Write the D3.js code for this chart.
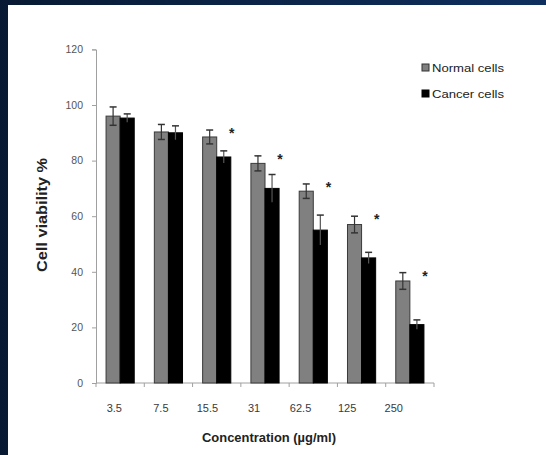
<!DOCTYPE html>
<html><head><meta charset="utf-8">
<script src="https://cdn.jsdelivr.net/npm/d3@7"></script>
<style>html,body{margin:0;padding:0;background:#0b2548;}svg{display:block;}</style>
</head><body>
<script>
const categories = ["3.5","7.5","15.5","31","62.5","125","250"];
const normalValues = [96, 90.3, 88.5, 79, 69, 57, 36.7];
const normalErrors = [3.3, 2.7, 2.5, 2.7, 2.6, 3, 3];
const cancerValues = [95.3, 90, 81.3, 70, 55, 45, 21];
const cancerErrors = [1.5, 2.5, 2.2, 5, 5.4, 2, 1.7];
const significant = [false, false, true, true, true, true, true];
const yTicks = [0, 20, 40, 60, 80, 100, 120];
const seriesNames = ["Normal cells", "Cancer cells"];
const seriesColors = ["#808080", "#000000"];

const W = 546, H = 455;
const svg = d3.select("body").append("svg").attr("width", W).attr("height", H);
const defs = svg.append("defs");
const g = defs.append("linearGradient").attr("id","bg").attr("x1","0").attr("y1","0").attr("x2","1").attr("y2","0");
g.append("stop").attr("offset","0").attr("stop-color","#081a33");
g.append("stop").attr("offset","1").attr("stop-color","#0f2f5e");
svg.append("rect").attr("width", W).attr("height", H).attr("fill","url(#bg)");
svg.append("rect").attr("x", 8).attr("y", 5).attr("width", W-8).attr("height", H-5).attr("fill","#fff");

const x0 = d3.scaleBand().domain(categories).range([96, 434]).paddingInner(20/48).paddingOuter(10/48);
const x1 = d3.scaleBand().domain([0,1]).range([0, x0.bandwidth()]);
const xLabel = d3.scaleBand().domain(categories).range([91, 417]);
const y = d3.scaleLinear().domain([0, 120]).range([383, 49.4]);

const font = "'Liberation Sans', Arial, sans-serif";

// y axis
const yAxis = svg.append("g").attr("transform","translate(96,0)")
  .call(d3.axisLeft(y).tickValues(yTicks).tickSize(4).tickPadding(9));
yAxis.select(".domain").attr("stroke","#a0a0a0");
yAxis.selectAll(".tick line").attr("stroke","#a0a0a0");
yAxis.selectAll("text").attr("font-family", font).attr("font-size", 10.5).attr("fill","#555");

// x axis line + ticks at band boundaries
const xAxisG = svg.append("g").attr("transform","translate(0,383)");
xAxisG.append("line").attr("x1",96).attr("x2",434).attr("stroke","#a0a0a0");
const bounds = categories.map(c => x0(c) - x0.step()*x0.paddingInner()/2).concat([434]);
xAxisG.selectAll("line.t").data(bounds).join("line").attr("class","t")
  .attr("x1", d=>d).attr("x2", d=>d).attr("y1",0).attr("y2",4).attr("stroke","#a0a0a0");
xAxisG.selectAll("text").data(categories).join("text")
  .attr("x", d => xLabel(d) + xLabel.bandwidth()/2).attr("y", 29)
  .attr("text-anchor","middle").attr("font-family", font).attr("font-size", 11).attr("fill","#3a3a3a")
  .text(d=>d);

// bars
const data = categories.map((c,i)=>({c, vals:[
  {s:0, v:normalValues[i], e:normalErrors[i]},
  {s:1, v:cancerValues[i], e:cancerErrors[i]}], sig:significant[i]}));

const grp = svg.append("g").selectAll("g").data(data).join("g")
  .attr("transform", d=>`translate(${x0(d.c)},0)`);
grp.selectAll("rect").data(d=>d.vals).join("rect")
  .attr("x", d=>x1(d.s)).attr("width", x1.bandwidth())
  .attr("y", d=>y(d.v)).attr("height", d=>y(0)-y(d.v))
  .attr("fill", d=>seriesColors[d.s]).attr("stroke", d=>d.s===0?"#3a3a3a":"#000").attr("stroke-width",1);

// error bars
const eb = grp.selectAll("g.err").data(d=>d.vals).join("g").attr("class","err");
eb.append("line")
  .attr("x1", d=>x1(d.s)+x1.bandwidth()/2).attr("x2", d=>x1(d.s)+x1.bandwidth()/2)
  .attr("y1", d=>y(d.v+d.e)).attr("y2", d=>y(d.v-d.e))
  .attr("stroke", d=>d.s===0?"#333":"#555").attr("stroke-width",1.2);
eb.append("line")
  .attr("x1", d=>x1(d.s)+x1.bandwidth()/2-3.5).attr("x2", d=>x1(d.s)+x1.bandwidth()/2+3.5)
  .attr("y1", d=>y(d.v+d.e)).attr("y2", d=>y(d.v+d.e))
  .attr("stroke","#333").attr("stroke-width",1.5);
eb.filter(d=>d.s===0).append("line")
  .attr("x1", d=>x1(d.s)+x1.bandwidth()/2-3.5).attr("x2", d=>x1(d.s)+x1.bandwidth()/2+3.5)
  .attr("y1", d=>y(d.v-d.e)).attr("y2", d=>y(d.v-d.e))
  .attr("stroke","#333").attr("stroke-width",1.5);

// significance stars
grp.filter(d=>d.sig).append("text")
  .attr("x", x0.bandwidth()+1).attr("y", d=>y(d.vals[0].v + d.vals[0].e)+8)
  .attr("text-anchor","middle").attr("font-family", font).attr("font-weight","bold")
  .attr("font-size", 14).attr("fill","#222").text("*");

// axis titles
svg.append("text").attr("x", 269).attr("y", 442).attr("text-anchor","middle")
  .attr("font-family", font).attr("font-weight","bold").attr("font-size", 13).attr("fill","#222")
  .attr("textLength", 134).attr("lengthAdjust","spacingAndGlyphs")
  .text("Concentration (µg/ml)");
svg.append("text").attr("transform","translate(47,215) rotate(-90)").attr("text-anchor","middle")
  .attr("font-family", font).attr("font-weight","bold").attr("font-size", 14).attr("fill","#222")
  .attr("textLength", 114).attr("lengthAdjust","spacingAndGlyphs")
  .text("Cell viability %");

// legend
const leg = svg.append("g").selectAll("g").data(seriesNames).join("g")
  .attr("transform", (d,i)=>`translate(422,${64 + i*26})`);
leg.append("rect").attr("width",7).attr("height",7)
  .attr("fill",(d,i)=>seriesColors[i]).attr("stroke",(d,i)=>i===0?"#333":"#000");
leg.append("text").attr("x",10).attr("y",8).attr("font-family", font).attr("font-size",11.5)
  .attr("fill","#222").attr("textLength", 72).attr("lengthAdjust","spacingAndGlyphs").text(d=>d);
</script>
</body></html>
